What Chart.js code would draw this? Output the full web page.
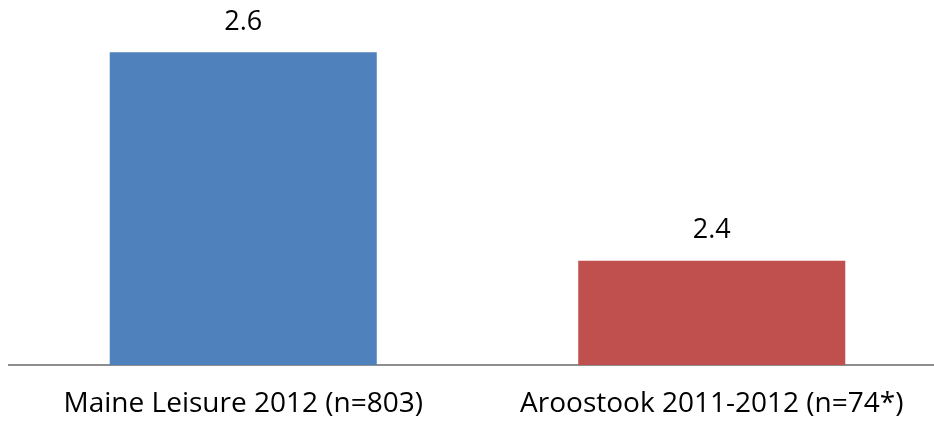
<!DOCTYPE html>
<html>
<head>
<meta charset="utf-8">
<script src="https://cdn.jsdelivr.net/npm/chart.js@4"></script>
<style>
  html, body { margin: 0; padding: 0; background: #fff; overflow: hidden; }
  #wrap { width: 946px; height: 422px; }
</style>
</head>
<body>
<div id="wrap"><canvas id="chart" width="946" height="422"></canvas></div>
<script>
// datos del gráfico
const categories = ['Maine Leisure 2012 (n=803)', 'Aroostook 2011-2012 (n=74*)'];
const values = [2.6, 2.4];
const barColors = ['#4F81BD', '#C0504D'];

const FONT = '"Open Sans", sans-serif';

// etiquetas de valor encima de las barras
const valueLabels = {
    id: 'valueLabels',
    afterDatasetsDraw(chart) {
        const ctx = chart.ctx;
        const meta = chart.getDatasetMeta(0);
        ctx.save();
        ctx.fillStyle = '#000';
        ctx.font = '27px ' + FONT;
        ctx.textAlign = 'center';
        ctx.textBaseline = 'middle';
        meta.data.forEach((bar, i) => {
            ctx.fillText(values[i].toFixed(1), bar.x, bar.y - 30);
        });
        ctx.restore();
    }
};

new Chart(document.getElementById('chart').getContext('2d'), {
    type: 'bar',
    data: {
        labels: categories,
        datasets: [{
            data: values,
            backgroundColor: barColors,
            borderWidth: 0,
            barPercentage: 0.57,
            categoryPercentage: 1
        }]
    },
    options: {
        responsive: false,
        animation: false,
        layout: { padding: { left: 9, right: 0, top: 0, bottom: 0 } },
        plugins: {
            legend: { display: false },
            tooltip: { enabled: false }
        },
        scales: {
            x: {
                grid: { display: false, drawTicks: false },
                border: { display: true, color: '#8e8e8e', width: 2 },
                ticks: {
                    color: '#000',
                    font: { family: FONT, size: 28 },
                    padding: 22,
                    maxRotation: 0
                },
                afterFit(scale) { scale.height = 57; }
            },
            y: {
                display: false,
                min: 2.3,
                max: 2.65
            }
        }
    },
    plugins: [valueLabels]
});
</script>
</body>
</html>
